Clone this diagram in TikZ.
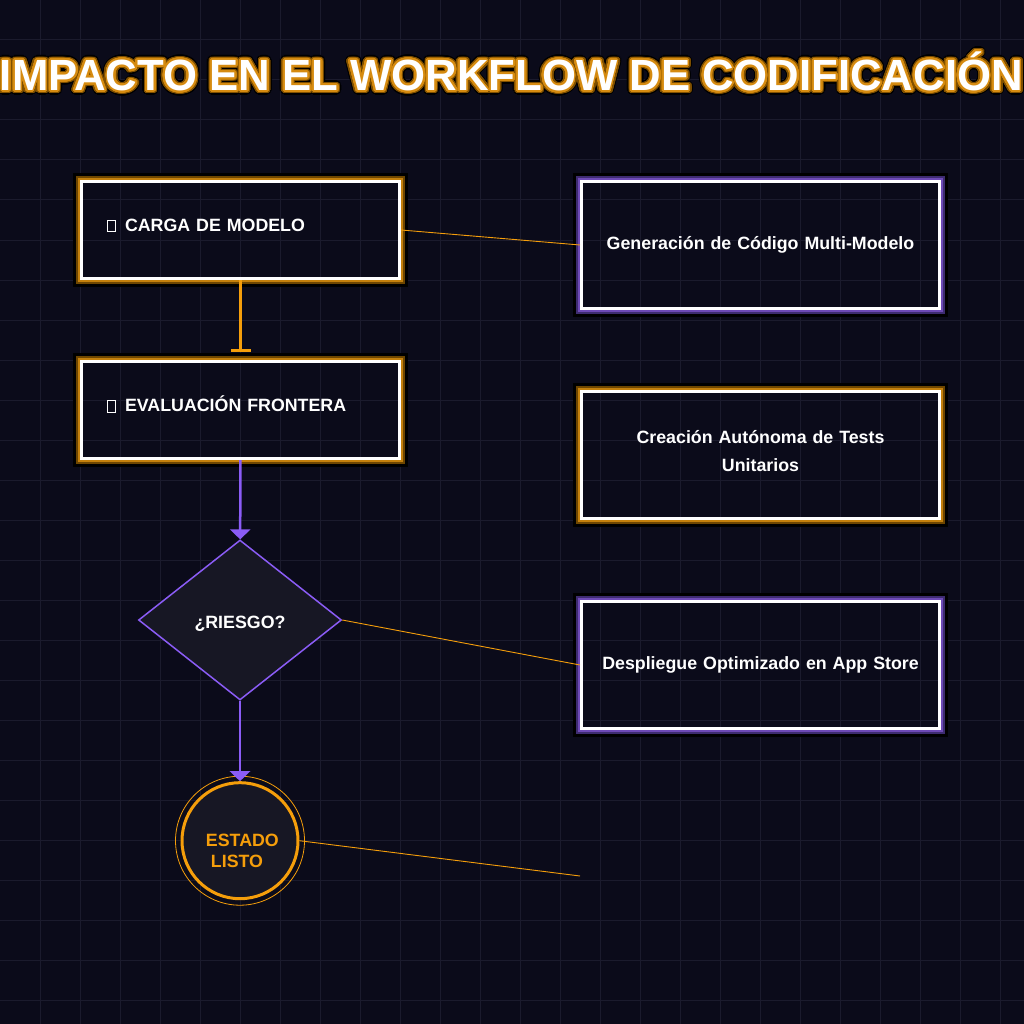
\documentclass[tikz,border=0pt]{standalone}
\usepackage{fontspec}
\setmainfont{Liberation Sans}
\usepackage[copies]{contour}
\usepackage{tikz}
\usetikzlibrary{arrows.meta, positioning, shapes.geometric, calc}
\definecolor{nightbg}{RGB}{11,11,26}
\definecolor{gridgray}{RGB}{27,27,45}
\definecolor{panelfill}{RGB}{23,23,36}
\definecolor{amber}{RGB}{245,158,11}
\definecolor{amberglow}{RGB}{196,128,12}
\definecolor{amberdark}{RGB}{110,70,0}
\definecolor{violetline}{RGB}{139,92,246}
\definecolor{violetglow}{RGB}{110,74,182}
\definecolor{violetdark}{RGB}{62,44,112}
\definecolor{titleglow}{RGB}{214,139,16}
\definecolor{titledark}{RGB}{128,80,0}

\contournumber{40}

% glowing outline for the title
\newcommand{\glowtitle}[1]{%
  \rlap{\contourlength{4.6pt}\contour{black}{#1}}%
  \rlap{\contourlength{3.4pt}\contour{titledark}{#1}}%
  \contourlength{1.8pt}\contour{titleglow}{#1}}

% missing-glyph box in front of the step names
\newcommand{\tofu}{{\setlength{\fboxsep}{0pt}\setlength{\fboxrule}{1pt}%
  \fbox{\rule{0pt}{10.4pt}\hspace{7pt}}}\hspace{9pt}}

% halo round a framed node: node, inner colour, outer colour
\newcommand{\glowframe}[3]{%
  \draw[black, line width=3] ($(#1.south west)+(-5.5,5.5)$) rectangle ($(#1.north east)+(5.5,-5.5)$);
  \draw[#3, line width=2.2] ($(#1.south west)+(-3,3)$) rectangle ($(#1.north east)+(3,-3)$);
  \draw[#2, line width=2.2] ($(#1.south west)+(-1.1,1.1)$) rectangle ($(#1.north east)+(1.1,-1.1)$);
}

\begin{document}
\begin{tikzpicture}[x=1pt, y=-1pt, >=Stealth,
    gridline/.style={gridgray, line width=1},
    stepbox/.style={draw=white, line width=3, minimum width=318, minimum height=97,
        text width=267, inner xsep=0, align=left, text=white, text height=13, text depth=10,
        font=\fontsize{17.8}{21}\selectfont\bfseries},
    outcome/.style={draw=white, line width=3, minimum width=358, minimum height=127,
        text width=340, align=center, text=white,
        font=\fontsize{17.8}{27.7}\selectfont\bfseries},
    decision/.style={diamond, draw=violetline, line width=1.5, fill=panelfill,
        minimum width=203, minimum height=160, inner sep=0, text=white,
        text height=16, text depth=0, font=\fontsize{17.8}{21}\selectfont\bfseries},
    endstate/.style={circle, draw=amber, line width=3, fill=panelfill, minimum size=116,
        inner sep=0, align=left, text=amber, font=\fontsize{17.8}{20.6}\selectfont\bfseries},
    flow/.style={violetline, line width=2.5, -{Triangle[width=20pt, length=10pt]}},
    link/.style={amber, line width=0.9}]

    \useasboundingbox (0,0) rectangle (1024,1024);
    \clip (0,0) rectangle (1024,1024);

    % Background and grid
    \fill[nightbg] (0,0) rectangle (1024,1024);
    \foreach \g in {40,80,...,1000} {
        \draw[gridline] (\g,0) -- (\g,1024);
        \draw[gridline] (0,\g) -- (1024,\g);
    }

    % Title
    \node[anchor=base, text=white, font=\fontsize{43.7}{50}\selectfont\bfseries]
        (headline) at (511.3,90.5) {\glowtitle{IMPACTO EN EL WORKFLOW DE CODIFICACIÓN}};

    % Steps on the left
    \node[stepbox] (load) at (240.5,230) {\tofu CARGA DE MODELO};
    \node[stepbox] (frontier) at (240.5,410) {\tofu EVALUACIÓN FRONTERA};
    \node[decision] (risk) at (240,620) {¿RIESGO?};
    \node[endstate] (ready) at (240,840.7)
        {\hspace*{4.8pt}\rule{0pt}{32.7pt}ESTADO\\\hspace*{9.8pt}LISTO};
    \draw[amber, line width=0.8] (ready.center) circle (64.5pt);

    % Outcomes on the right
    \node[outcome] (codegen) at (760.5,245) {Generación de Código Multi-Modelo};
    \node[outcome] (tests) at (760.5,455)
        {Creación Autónoma de Tests\\Unitarios\rule[-7.8pt]{0pt}{0pt}};
    \node[outcome] (deploy) at (760.5,665) {Despliegue Optimizado en App Store};
    \coordinate (spare) at (580,876);

    % Halos
    \glowframe{load}{amberglow}{amberdark}
    \glowframe{frontier}{amberglow}{amberdark}
    \glowframe{codegen}{violetglow}{violetdark}
    \glowframe{tests}{amberglow}{amberdark}
    \glowframe{deploy}{violetglow}{violetdark}

    % Flow
    \draw[amber, line width=2.5, -{Bar[width=20pt]}, shorten >=8.5] (load) -- (frontier);
    \draw[flow] (frontier) -- (risk);
    \draw[flow] (risk) -- (ready);

    % Links to outcomes
    \draw[link] (load.east) -- (codegen.west);
    \draw[link] (risk.east) -- (deploy.west);
    \draw[link] (ready.east) -- (spare);
\end{tikzpicture}
\end{document}
